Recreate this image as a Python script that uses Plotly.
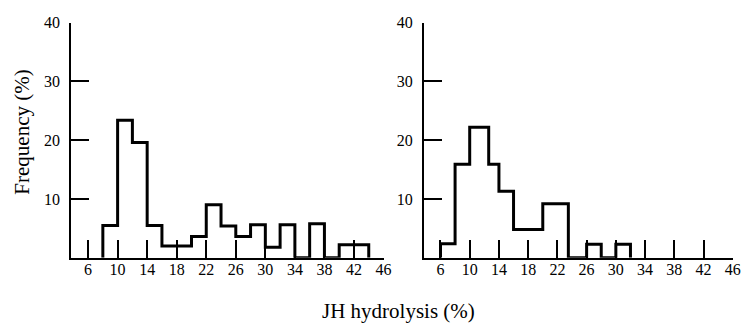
import plotly.graph_objects as go

# ---- data ----
left_edges = [8, 10, 12, 14, 16, 18, 20, 22, 24, 26, 28, 30, 32, 34, 36, 38, 40, 42, 44]
left_freq = [5.5, 23.4, 19.6, 5.5, 2.0, 2.0, 3.6, 9.0, 5.4, 3.6, 5.6, 1.8, 5.6, 0, 5.8, 0, 2.2, 2.2]

right_edges = [6, 8, 10, 12.6, 14, 16, 18, 20, 22, 23.5, 26, 28, 30, 32]
right_freq = [2.4, 15.9, 22.2, 15.9, 11.3, 4.8, 4.8, 9.2, 9.2, 0, 2.3, 0, 2.3]

x_tick_vals = [6, 10, 14, 18, 22, 26, 30, 34, 38, 42, 46]
x_tick_text = ["6", "10", "14", "18", "22", "26", "30", "34", "38", "42", "46"]
y_tick_vals = [10, 20, 30, 40]
y_tick_text = ["10", "20", "30", "40"]

x_title = "JH hydrolysis (%)"
y_title = "Frequency (%)"

FONT = "Liberation Serif, Times New Roman, serif"
W, H = 754, 329


def step_xy(edges, freq):
    xs = [edges[0]] + list(edges)
    ys = [0] + list(freq) + [0]
    return xs, ys


fig = go.Figure()
for i, (edges, freq) in enumerate([(left_edges, left_freq), (right_edges, right_freq)]):
    xs, ys = step_xy(edges, freq)
    fig.add_trace(go.Scatter(
        x=xs, y=ys, mode="lines", line=dict(shape="hv", color="black", width=3),
        xaxis="x" if i == 0 else "x2", yaxis="y" if i == 0 else "y2",
        showlegend=False, hoverinfo="skip",
    ))

ybot = 1 - 256 / H
ytop = 1 - 15 / H

axis_common = dict(
    showline=True, linecolor="black", linewidth=2,
    ticks="inside", ticklen=18, tickwidth=1.5, tickcolor="black",
    showgrid=False, zeroline=False,
    tickfont=dict(family=FONT, size=16, color="black"),
)

fig.update_layout(
    width=W, height=H,
    margin=dict(l=0, r=0, t=0, b=0),
    paper_bgcolor="white", plot_bgcolor="white",
    xaxis=dict(domain=[72 / W, 388 / W], range=[3.72, 46.05], anchor="y",
               tickvals=x_tick_vals, ticktext=x_tick_text, ticklabelstandoff=-4,
               **axis_common),
    yaxis=dict(domain=[ybot, ytop], range=[0, 40], anchor="x",
               tickvals=y_tick_vals, ticktext=y_tick_text, ticklabelstandoff=6,
               **axis_common),
    xaxis2=dict(domain=[428.5 / W, 741 / W], range=[3.74, 46.05], anchor="y2",
                tickvals=x_tick_vals, ticktext=x_tick_text, ticklabelstandoff=-4,
                **axis_common),
    yaxis2=dict(domain=[ybot, ytop], range=[0, 40], anchor="x2",
                tickvals=y_tick_vals, ticktext=y_tick_text, ticklabelstandoff=6,
                **axis_common),
    annotations=[
        dict(text=x_title, x=403 / W, y=1 - 311 / H, xref="paper", yref="paper",
             showarrow=False, xanchor="center", yanchor="middle",
             font=dict(family=FONT, size=21, color="black")),
        dict(text=y_title, x=22 / W, y=1 - 127 / H, xref="paper", yref="paper",
             showarrow=False, xanchor="center", yanchor="middle", textangle=-90,
             font=dict(family=FONT, size=21, color="black")),
    ],
)

fig.write_html("out.html")
